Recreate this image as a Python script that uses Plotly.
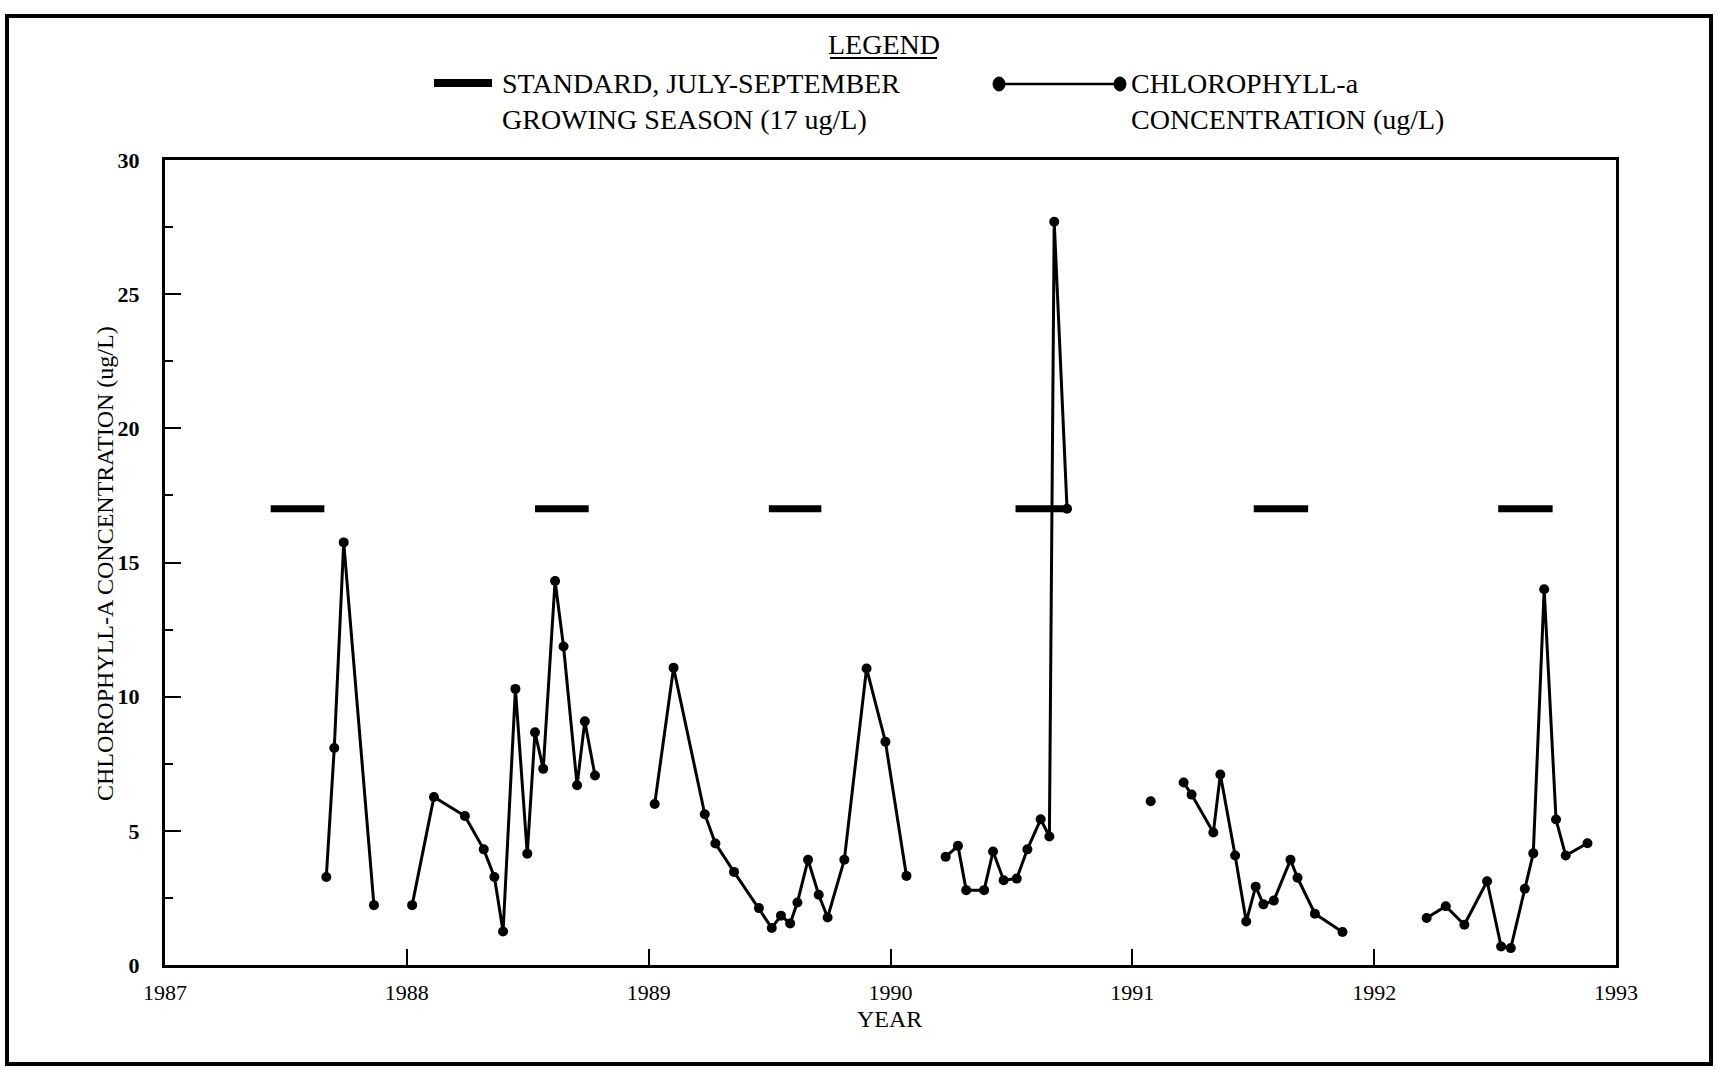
import plotly.graph_objects as go

# ---------------- data (decimal year, ug/L); None marks gaps between sampling runs
chl_year = [
    1987.667, 1987.700, 1987.739, 1987.864, None,
    1988.022, 1988.112, 1988.240, 1988.318, 1988.362, 1988.398, 1988.449, 1988.498,
    1988.530, 1988.564, 1988.613, 1988.648, 1988.704, 1988.736, 1988.778, None,
    1989.025, 1989.103, 1989.232, 1989.276, 1989.353, 1989.456, 1989.509, 1989.547,
    1989.585, 1989.615, 1989.659, 1989.703, 1989.740, 1989.809, 1989.901, 1989.979,
    1990.066, None,
    1990.228, 1990.279, 1990.313, 1990.387, 1990.424, 1990.468, 1990.522, 1990.566,
    1990.621, 1990.657, 1990.677, 1990.730, None,
    1991.076, None,
    1991.212, 1991.245, 1991.335, 1991.364, 1991.425, 1991.471, 1991.510, 1991.542,
    1991.585, 1991.654, 1991.683, 1991.755, 1991.869, None,
    1992.217, 1992.296, 1992.373, 1992.467, 1992.525, 1992.565, 1992.623, 1992.658,
    1992.703, 1992.752, 1992.792, 1992.882,
]
chl_value = [
    3.28, 8.09, 15.75, 2.23, None,
    2.23, 6.26, 5.55, 4.31, 3.28, 1.25, 10.29, 4.15,
    8.67, 7.31, 14.31, 11.87, 6.70, 9.08, 7.06, None,
    6.00, 11.08, 5.62, 4.53, 3.47, 2.12, 1.38, 1.84,
    1.55, 2.33, 3.92, 2.62, 1.77, 3.92, 11.05, 8.32,
    3.32, None,
    4.03, 4.44, 2.79, 2.79, 4.23, 3.16, 3.22, 4.31,
    5.43, 4.79, 27.70, 17.00, None,
    6.10, None,
    6.80, 6.35, 4.94, 7.10, 4.08, 1.62, 2.92, 2.26,
    2.40, 3.92, 3.25, 1.91, 1.23, None,
    1.75, 2.19, 1.50, 3.12, 0.69, 0.63, 2.84, 4.16,
    14.00, 5.42, 4.08, 4.54,
]

# July-September growing-season standard, one bar per year
std_start = [1987.437, 1988.530, 1989.497, 1990.517, 1991.502, 1992.513]
std_end = [1987.659, 1988.752, 1989.714, 1990.734, 1991.727, 1992.738]
std_level = 17.0

x_ticks = [1987, 1988, 1989, 1990, 1991, 1992, 1993]
y_ticks = [0, 5, 10, 15, 20, 25, 30]

# build the gapped standard-bar series
std_x, std_y = [], []
for s, e in zip(std_start, std_end):
    std_x += [s, e, None]
    std_y += [std_level, std_level, None]

FONT = "Liberation Serif"
W, H = 1718, 1070
L, R, T, B = 165, 102, 160, 105
PW, PH = W - L - R, H - T - B


def px(x):
    return (x - L) / PW


def py(y):
    return (H - B - y) / PH


fig = go.Figure()
fig.add_trace(go.Scatter(
    x=std_x, y=std_y, mode="lines",
    line=dict(color="black", width=7),
    connectgaps=False, showlegend=False, hoverinfo="skip",
))
fig.add_trace(go.Scatter(
    x=chl_year, y=chl_value, mode="lines+markers",
    line=dict(color="black", width=3),
    marker=dict(color="black", size=10, symbol="circle"),
    connectgaps=False, showlegend=False,
))

shapes = []
annotations = []

# outer frame
shapes.append(dict(type="rect", xref="paper", yref="paper",
                   x0=px(7), x1=px(1711), y0=py(1064), y1=py(16),
                   line=dict(color="black", width=4), fillcolor="rgba(0,0,0,0)"))

# legend
annotations.append(dict(text="LEGEND", xref="paper", yref="paper",
                        x=px(884), y=py(44), xanchor="center", yanchor="middle",
                        showarrow=False, font=dict(family=FONT, size=28, color="black")))
shapes.append(dict(type="line", xref="paper", yref="paper",
                   x0=px(830), x1=px(937), y0=py(58), y1=py(58),
                   line=dict(color="black", width=2)))
shapes.append(dict(type="line", xref="paper", yref="paper",
                   x0=px(434), x1=px(492), y0=py(83), y1=py(83),
                   line=dict(color="black", width=8)))
annotations.append(dict(text="STANDARD, JULY-SEPTEMBER", xref="paper", yref="paper",
                        x=px(500), y=py(84), xanchor="left", yanchor="middle",
                        showarrow=False, font=dict(family=FONT, size=28, color="black")))
annotations.append(dict(text="GROWING SEASON (17 ug/L)", xref="paper", yref="paper",
                        x=px(500), y=py(120), xanchor="left", yanchor="middle",
                        showarrow=False, font=dict(family=FONT, size=28, color="black")))
shapes.append(dict(type="line", xref="paper", yref="paper",
                   x0=px(999), x1=px(1120), y0=py(84), y1=py(84),
                   line=dict(color="black", width=2.5)))
for cx in (999, 1120):
    shapes.append(dict(type="circle", xref="paper", yref="paper",
                       x0=px(cx - 6), x1=px(cx + 6), y0=py(91), y1=py(77),
                       line=dict(color="black", width=1), fillcolor="black"))
annotations.append(dict(text="CHLOROPHYLL-a", xref="paper", yref="paper",
                        x=px(1129), y=py(84), xanchor="left", yanchor="middle",
                        showarrow=False, font=dict(family=FONT, size=28, color="black")))
annotations.append(dict(text="CONCENTRATION (ug/L)", xref="paper", yref="paper",
                        x=px(1129), y=py(119), xanchor="left", yanchor="middle",
                        showarrow=False, font=dict(family=FONT, size=28, color="black")))

# axis titles
annotations.append(dict(text="YEAR", xref="paper", yref="paper",
                        x=px(889), y=py(1019), xanchor="center", yanchor="middle",
                        showarrow=False, font=dict(family=FONT, size=24, color="black")))
annotations.append(dict(text="CHLOROPHYLL-A CONCENTRATION (ug/L)", xref="paper", yref="paper",
                        x=px(105), y=py(564), xanchor="center", yanchor="middle",
                        textangle=-90,
                        showarrow=False, font=dict(family=FONT, size=24, color="black")))

fig.update_layout(
    width=W, height=H,
    margin=dict(l=L, r=R, t=T, b=B, pad=0),
    paper_bgcolor="white", plot_bgcolor="white",
    shapes=shapes, annotations=annotations,
    showlegend=False,
    font=dict(family=FONT, color="black"),
)
fig.update_xaxes(
    range=[1987, 1993], tickvals=x_ticks, ticktext=[str(v) for v in x_ticks],
    ticks="inside", ticklen=16, tickwidth=2, tickcolor="black",
    showline=True, linewidth=3, linecolor="black", mirror=True,
    showgrid=False, zeroline=False,
    tickfont=dict(family=FONT, size=22, color="black"),
    ticklabelstandoff=6,
)
fig.update_yaxes(
    range=[0, 30], tickvals=y_ticks, ticktext=[str(v) for v in y_ticks],
    ticks="inside", ticklen=16, tickwidth=2, tickcolor="black",
    minor=dict(dtick=2.5, tick0=0, ticks="inside", ticklen=8, tickwidth=2, tickcolor="black"),
    showline=True, linewidth=3, linecolor="black", mirror=True,
    showgrid=False, zeroline=False,
    tickfont=dict(family=FONT, size=22, color="black", weight="bold"),
    ticklabelstandoff=18,
)

fig.write_html(
    "out.html",
    config={"displayModeBar": False},
    post_script="document.body.style.margin='0';document.body.style.overflow='hidden';",
)
